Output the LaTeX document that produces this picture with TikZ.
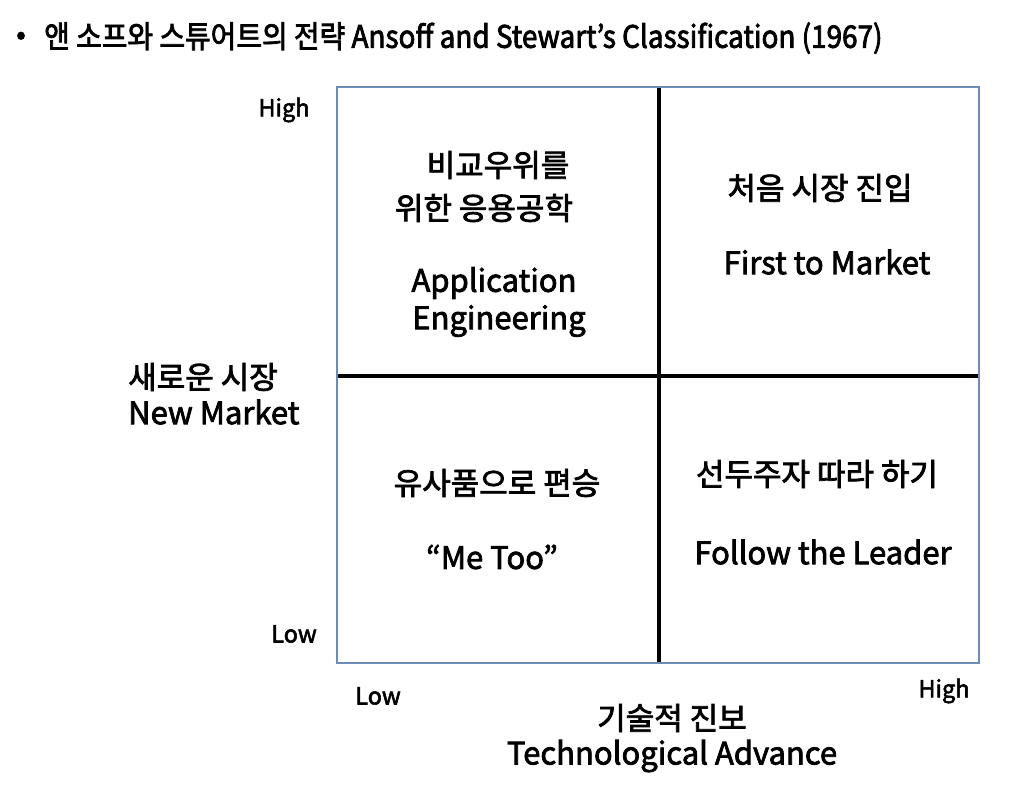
\documentclass[tikz,border=0pt]{standalone}
\usepackage{fontspec}
\setmainfont[FakeBold=2.4]{Noto Sans CJK KR}
\definecolor{framecol}{RGB}{110,140,180}
\begin{document}
\begin{tikzpicture}[x=1pt,y=-1pt,
  lbl/.style={inner sep=0pt,font=\fontsize{31}{37}\selectfont},
  axl/.style={inner sep=0pt,font=\fontsize{23.5}{28}\selectfont},
  big/.style={inner sep=0pt,font=\fontsize{31}{37}\selectfont},
  divider/.style={line width=3.4pt,black},
  frame/.style={draw=framecol,line width=1.3pt}]
\useasboundingbox (0,0) rectangle (1029,785);
\node[inner sep=0pt,font=\fontsize{28}{30}\selectfont] (bullet) at (21,38) {•};
\node[inner sep=0pt,anchor=west,font=\fontsize{31}{36}\selectfont] (title) at (44,38) {\addfontfeature{FakeStretch=0.9}앤 소프와 스튜어트의 전략 Ansoff and Stewart’s Classification (1967)};
\coordinate (tl) at (337,87);
\coordinate (br) at (979,663);
\coordinate (mt) at (659,87);
\coordinate (mb) at (659,663);
\coordinate (ml) at (337,376);
\coordinate (mr) at (979,376);
\draw[divider] (mt) -- (mb);
\draw[divider] (ml) -- (mr);
\draw[frame] (tl) rectangle (br);
\node[axl] (yhigh) at (284,110) {High};
\node[axl] (ylow) at (294,634) {Low};
\node[axl] (xlow) at (378,696) {Low};
\node[axl] (xhigh) at (944,691) {High};
\node[big,anchor=west] (ylab1) at (128,377) {새로운 시장};
\node[big,anchor=west] (ylab2) at (128,412) {New Market};
\node[big] (xlab1) at (672,718) {기술적 진보};
\node[big] (xlab2) at (672,756) {Technological Advance};
\node[lbl] (q1a) at (498,165) {비교우위를};
\node[lbl] (q1b) at (484,208) {위한 응용공학};
\node[lbl] (q1c) at (494,283) {Application};
\node[lbl] (q1d) at (499,321) {Engineering};
\node[lbl] (q2k) at (820,188) {처음 시장 진입};
\node[lbl] (q2e) at (827,262) {First to Market};
\node[lbl] (q3k) at (497,483) {유사품으로 편승};
\node[lbl] (q3e) at (492,557) {“Me Too”};
\node[lbl] (q4k) at (817,474) {선두주자 따라 하기};
\node[lbl] (q4e) at (823,552) {Follow the Leader};
\end{tikzpicture}
\end{document}
